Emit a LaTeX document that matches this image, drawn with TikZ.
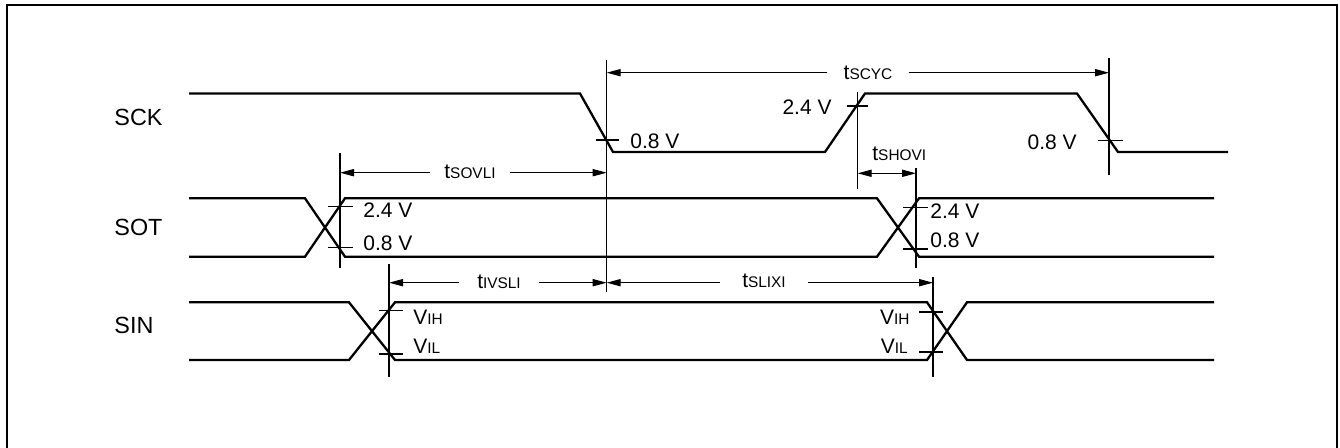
\documentclass[tikz,border=0pt]{standalone}
\usepackage{fontspec}
\setmainfont{Liberation Sans}
\usetikzlibrary{arrows.meta}
\newcommand\subsm[1]{{\fontsize{7.7pt}{9pt}\selectfont #1}}
\begin{document}
\begin{tikzpicture}[x=0.5pt,y=-0.5pt,
  sig/.style={line width=1.15pt, line join=miter},
  thinline/.style={line width=0.55pt},
  dim/.style={line width=0.55pt,-{Triangle[length=7pt,width=3.6pt]}},
  dimboth/.style={line width=0.55pt,{Triangle[length=7pt,width=3.6pt]}-{Triangle[length=7pt,width=3.6pt]}},
  val/.style={font=\fontsize{10.5pt}{12pt}\selectfont, inner sep=0pt},
  signame/.style={font=\fontsize{11.7pt}{14pt}\selectfont, inner sep=0pt, anchor=base west},
  tlab/.style={font=\fontsize{10.5pt}{12pt}\selectfont, inner ysep=0pt, anchor=base}]
\useasboundingbox (0,0) rectangle (1340,448);
\draw[line width=1.1pt] (7,448) -- (7,5) -- (1337,5) -- (1337,448);

% signal names
\node[signame] (sck) at (114,126) {SCK};
\node[signame] (sot) at (114,236) {SOT};
\node[signame] (sin) at (114,333.5) {SIN};

% SCK waveform
\draw[sig] (189,93.5) -- (580,93.5) -- (613,152) -- (825,152) -- (865,93.5) -- (1077,93.5) -- (1118,152) -- (1228,152);

% SOT waveform
\draw[sig] (189,198.3) -- (305,198.3) -- (345,256.7) -- (877,256.7) -- (919,198.3) -- (1214,198.3);
\draw[sig] (189,256.7) -- (305,256.7) -- (345,198.3) -- (877,198.3) -- (919,256.7) -- (1214,256.7);

% SIN waveform
\draw[sig] (189,302.3) -- (349,302.3) -- (395,360) -- (927,360) -- (967,302.3) -- (1214,302.3);
\draw[sig] (189,360) -- (349,360) -- (395,302.3) -- (927,302.3) -- (967,360) -- (1214,360);

% reference vertical lines
\coordinate (v1t) at (606.7,60);   \coordinate (v1b) at (606.7,292);
\coordinate (v2t) at (857.7,92);   \coordinate (v2b) at (857.7,189);
\coordinate (v3t) at (1109,58);    \coordinate (v3b) at (1109,175);
\coordinate (v4t) at (340,153);    \coordinate (v4b) at (340,268);
\coordinate (v5t) at (916,168);    \coordinate (v5b) at (916,268);
\coordinate (v6t) at (389,264);    \coordinate (v6b) at (389,377);
\coordinate (v7t) at (933,277);    \coordinate (v7b) at (933,377);
\foreach \v in {v1,v2,v3,v4,v5,v6,v7} \draw[thinline] (\v t) -- (\v b);

% level ticks
\draw[thinline] (596,140) -- (619,140);
\draw[thinline] (847,106) -- (868,106);
\draw[thinline] (1098,140.7) -- (1123,140.7);
\draw[thinline] (328,206.7) -- (353,206.7);
\draw[thinline] (328,247.3) -- (353,247.3);
\draw[thinline] (903,207.7) -- (928,207.7);
\draw[thinline] (903,249) -- (928,249);
\draw[thinline] (379,310.7) -- (403,310.7);
\draw[thinline] (379,354) -- (403,354);
\draw[thinline] (919,312) -- (943,312);
\draw[thinline] (919,352) -- (943,352);

% level labels
\node[val, anchor=base west] (l1) at (630,149) {0.8 V};
\node[val, anchor=base east] (l2) at (832,115) {2.4 V};
\node[val, anchor=base east] (l3) at (1077,150) {0.8 V};
\node[val, anchor=base west] (l4) at (363,218) {2.4 V};
\node[val, anchor=base west] (l5) at (363,251) {0.8 V};
\node[val, anchor=base west] (l6) at (930,219) {2.4 V};
\node[val, anchor=base west] (l7) at (930,248) {0.8 V};
\node[val, anchor=base west] (l8) at (413,325) {V\subsm{IH}};
\node[val, anchor=base west] (l9) at (413,354) {V\subsm{IL}};
\node[val, anchor=base east] (l10) at (910,325) {V\subsm{IH}};
\node[val, anchor=base east] (l11) at (908,354) {V\subsm{IL}};

% tSCYC
\coordinate (scycL) at (606.7,72.7); \coordinate (scycR) at (1109,72.7);
\node[tlab, inner xsep=8pt] (scyc) at (868,80) {t\subsm{SCYC}};
\draw[dim] (scyc.west |- scycL) -- (scycL);
\draw[dim] (scyc.east |- scycR) -- (scycR);

% tSOVLI
\coordinate (sovL) at (340,172.7); \coordinate (sovR) at (606.7,172.7);
\node[tlab, inner xsep=7pt] (sov) at (470,178.3) {t\subsm{SOVLI}};
\draw[dim] (sov.west |- sovL) -- (sovL);
\draw[dim] (sov.east |- sovR) -- (sovR);

% tSHOVI
\coordinate (shoL) at (857.7,173.3); \coordinate (shoR) at (916,173.3);
\node[val, anchor=base west] (sho) at (872,160.7) {t\subsm{SHOVI}};
\draw[dimboth] (shoL) -- (shoR);

% tIVSLI
\coordinate (ivsL) at (389,282.7); \coordinate (ivsR) at (606.7,282.7);
\node[tlab, inner xsep=9pt] (ivs) at (499,288.3) {t\subsm{IVSLI}};
\draw[dim] (ivs.west |- ivsL) -- (ivsL);
\draw[dim] (ivs.east |- ivsR) -- (ivsR);

% tSLIXI
\coordinate (slxL) at (606.7,282.7); \coordinate (slxR) at (933,282.7);
\node[tlab, inner xsep=11pt] (slx) at (764,287.5) {t\subsm{SLIXI}};
\draw[dim] (slx.west |- slxL) -- (slxL);
\draw[dim] (slx.east |- slxR) -- (slxR);
\end{tikzpicture}
\end{document}
